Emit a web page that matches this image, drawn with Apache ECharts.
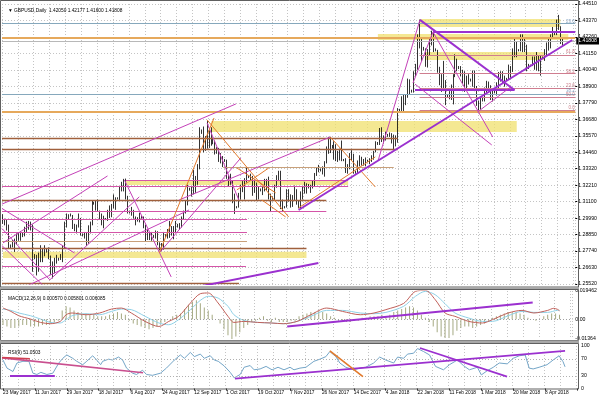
<!DOCTYPE html>
<html><head><meta charset="utf-8">
<script src="https://cdn.jsdelivr.net/npm/echarts@6/dist/echarts.min.js"></script>
<style>html,body{margin:0;padding:0;background:#fff}#c{width:600px;height:400px}</style>
</head><body><div id="c"></div>
<script>
// ---- daily GBPUSD bars, 23 May 2017 .. 19 Apr 2018 (rows of 10) ----
const open = [
1.2995,1.2975,1.2970,1.2950,1.2805,1.2810,1.2840,1.2855,1.2885,1.2890,
1.2885,1.2895,1.2925,1.2945,1.2950,1.2950,1.2745,1.2730,1.2655,1.2740,
1.2755,1.2775,1.2780,1.2775,1.2735,1.2630,1.2655,1.2690,1.2715,1.2725,
1.2725,1.2795,1.2955,1.3000,1.3025,1.3015,1.2935,1.2925,1.2945,1.2995,
1.2885,1.2885,1.2885,1.2830,1.2935,1.2965,1.3100,1.3095,1.3065,1.3045,
1.3000,1.2965,1.2990,1.2995,1.3045,1.3015,1.3090,1.3075,1.3135,1.3130,
1.3205,1.3215,1.3245,1.3135,1.3040,1.3035,1.3050,1.3000,1.2990,1.2995,
1.3005,1.3000,1.2940,1.2855,1.2880,1.2870,1.2875,1.2880,1.2905,1.2830,
1.2800,1.2795,1.2880,1.2885,1.2920,1.2940,1.2900,1.2930,1.2955,1.2940,
1.2950,1.3000,1.3040,1.3110,1.3195,1.3200,1.3180,1.3260,1.3255,1.3350,
1.3590,1.3580,1.3500,1.3510,1.3490,1.3580,1.3540,1.3510,1.3450,1.3460,
1.3395,1.3415,1.3395,1.3385,1.3275,1.3255,1.3250,1.3110,1.3070,1.3075,
1.3150,1.3200,1.3235,1.3260,1.3285,1.3280,1.3265,1.3175,1.3230,1.3190,
1.3195,1.3190,1.3205,1.3245,1.3255,1.3135,1.3135,1.3130,1.3215,1.3285,
1.3280,1.3065,1.3075,1.3070,1.3180,1.3125,1.3130,1.3135,1.3190,1.3100,
1.3110,1.3165,1.3180,1.3205,1.3225,1.3210,1.3215,1.3245,1.3290,1.3325,
1.3330,1.3325,1.3340,1.3380,1.3455,1.3525,1.3480,1.3490,1.3405,1.3440,
1.3395,1.3445,1.3395,1.3390,1.3325,1.3345,1.3425,1.3410,1.3310,1.3315,
1.3375,1.3400,1.3390,1.3375,1.3385,1.3390,1.3390,1.3415,1.3450,1.3505,
1.3500,1.3590,1.3525,1.3550,1.3565,1.3555,1.3565,1.3540,1.3535,1.3525,
1.3725,1.3730,1.3795,1.3795,1.3825,1.3890,1.3860,1.3865,1.3985,1.4015,
1.4235,1.4160,1.4150,1.4145,1.4045,1.4120,1.4195,1.4255,1.4140,1.4135,
1.3995,1.3955,1.3885,1.3910,1.3825,1.3830,1.3825,1.3885,1.3970,1.4075,
1.4020,1.4015,1.3990,1.3955,1.3900,1.3945,1.3935,1.3940,1.3990,1.3875,
1.3765,1.3780,1.3800,1.3805,1.3880,1.3905,1.3890,1.3825,1.3855,1.3860,
1.3900,1.3960,1.3950,1.3950,1.3945,1.3940,1.4020,1.4015,1.4140,1.4140,
1.4135,1.4140,1.4235,1.4150,1.4160,1.4025,1.4030,1.4035,1.4080,1.4020,
1.4080,1.4010,1.4085,1.4090,1.4125,1.4165,1.4180,1.4235,1.4250,1.4255,
1.4335,1.4290,1.42050];
const high = [
1.3025,1.2995,1.2990,1.2955,1.2820,1.2850,1.2860,1.2895,1.2900,1.2910,
1.2900,1.2940,1.2975,1.2980,1.2975,1.2955,1.2755,1.2750,1.2765,1.2815,
1.2790,1.2815,1.2790,1.2800,1.2745,1.2705,1.2730,1.2750,1.2730,1.2755,
1.2815,1.2975,1.3030,1.3025,1.3030,1.3020,1.2960,1.2955,1.3030,1.3000,
1.2895,1.2905,1.2905,1.2950,1.2975,1.3115,1.3110,1.3115,1.3125,1.3050,
1.3030,1.3015,1.3000,1.3055,1.3085,1.3095,1.3160,1.3140,1.3140,1.3215,
1.3245,1.3265,1.3267,1.3150,1.3050,1.3075,1.3055,1.3010,1.3005,1.3035,
1.3015,1.3010,1.2955,1.2920,1.2900,1.2905,1.2885,1.2915,1.2910,1.2835,
1.2830,1.2905,1.2890,1.2925,1.2980,1.2945,1.2945,1.2980,1.2960,1.2965,
1.3010,1.3050,1.3120,1.3225,1.3205,1.3210,1.3325,1.3285,1.3365,1.3615,
1.3600,1.3620,1.3555,1.3657,1.3595,1.3615,1.3545,1.3525,1.3480,1.3475,
1.3440,1.3420,1.3400,1.3395,1.3290,1.3300,1.3255,1.3165,1.3080,1.3170,
1.3225,1.3250,1.3270,1.3340,1.3290,1.3300,1.3285,1.3260,1.3240,1.3215,
1.3200,1.3215,1.3265,1.3265,1.3280,1.3165,1.3145,1.3225,1.3290,1.3320,
1.3320,1.3125,1.3080,1.3195,1.3195,1.3160,1.3155,1.3220,1.3195,1.3120,
1.3180,1.3215,1.3245,1.3235,1.3230,1.3225,1.3255,1.3305,1.3340,1.3360,
1.3335,1.3350,1.3385,1.3485,1.3550,1.3550,1.3495,1.3520,1.3500,1.3455,
1.3470,1.3525,1.3400,1.3405,1.3365,1.3440,1.3460,1.3435,1.3320,1.3390,
1.3425,1.3415,1.3400,1.3410,1.3395,1.3405,1.3425,1.3455,1.3520,1.3515,
1.3610,1.3615,1.3560,1.3585,1.3570,1.3580,1.3575,1.3565,1.3560,1.3745,
1.3740,1.3825,1.3835,1.3840,1.3945,1.3940,1.3870,1.3995,1.4045,1.4245,
1.4345,1.4225,1.4160,1.4150,1.4145,1.4220,1.4270,1.4265,1.4150,1.4140,
1.4025,1.3975,1.4065,1.3935,1.3835,1.3860,1.3905,1.3975,1.4110,1.4080,
1.4030,1.4030,1.4005,1.3995,1.3965,1.3975,1.3945,1.4000,1.4000,1.3895,
1.3795,1.3815,1.3815,1.3885,1.3930,1.3925,1.3900,1.3880,1.3865,1.3920,
1.3990,1.3995,1.3995,1.3965,1.3950,1.4040,1.4030,1.4150,1.4220,1.4200,
1.4145,1.4245,1.4245,1.4215,1.4175,1.4045,1.4040,1.4095,1.4095,1.4125,
1.4100,1.4105,1.4095,1.4145,1.4190,1.4215,1.4245,1.4295,1.4265,1.4345,
1.4377,1.4300,1.42177];
const low = [
1.2960,1.2950,1.2915,1.2795,1.2795,1.2800,1.2770,1.2820,1.2845,1.2845,
1.2870,1.2875,1.2905,1.2920,1.2915,1.2635,1.2720,1.2610,1.2635,1.2700,
1.2700,1.2740,1.2765,1.2720,1.2615,1.2590,1.2625,1.2690,1.2710,1.2715,
1.2700,1.2795,1.2935,1.2990,1.3010,1.2925,1.2910,1.2895,1.2935,1.2880,
1.2875,1.2860,1.2810,1.2825,1.2895,1.2950,1.3090,1.3050,1.3045,1.2990,
1.2950,1.2930,1.2985,1.2980,1.3000,1.3005,1.3065,1.3055,1.3125,1.3120,
1.3180,1.3180,1.3125,1.3030,1.3030,1.3015,1.2995,1.2950,1.2975,1.2970,
1.2995,1.2930,1.2840,1.2850,1.2850,1.2845,1.2865,1.2860,1.2815,1.2780,
1.2775,1.2785,1.2870,1.2860,1.2865,1.2880,1.2855,1.2900,1.2935,1.2920,
1.2935,1.2990,1.3030,1.3085,1.3185,1.3145,1.3160,1.3170,1.3225,1.3330,
1.3570,1.3445,1.3455,1.3470,1.3475,1.3490,1.3500,1.3430,1.3435,1.3380,
1.3370,1.3345,1.3380,1.3265,1.3215,1.3225,1.3100,1.3027,1.3065,1.3070,
1.3125,1.3175,1.3125,1.3240,1.3270,1.3250,1.3150,1.3170,1.3115,1.3125,
1.3180,1.3155,1.3180,1.3185,1.3125,1.3040,1.3125,1.3120,1.3205,1.3250,
1.3060,1.3040,1.3065,1.3070,1.3110,1.3070,1.3075,1.3120,1.3090,1.3065,
1.3060,1.3125,1.3165,1.3165,1.3200,1.3170,1.3200,1.3215,1.3285,1.3310,
1.3315,1.3295,1.3280,1.3370,1.3435,1.3440,1.3470,1.3395,1.3385,1.3380,
1.3390,1.3385,1.3385,1.3305,1.3300,1.3330,1.3390,1.3300,1.3300,1.3300,
1.3350,1.3355,1.3355,1.3350,1.3380,1.3365,1.3380,1.3395,1.3445,1.3495,
1.3495,1.3515,1.3505,1.3525,1.3550,1.3550,1.3505,1.3460,1.3485,1.3510,
1.3715,1.3725,1.3725,1.3765,1.3815,1.3835,1.3850,1.3850,1.3960,1.4005,
1.4150,1.4065,1.4135,1.4025,1.4020,1.4105,1.4170,1.4125,1.4130,1.3985,
1.3900,1.3855,1.3860,1.3765,1.3815,1.3805,1.3800,1.3770,1.3955,1.3995,
1.4010,1.3960,1.3910,1.3855,1.3875,1.3905,1.3925,1.3890,1.3860,1.3760,
1.3710,1.3735,1.3790,1.3790,1.3840,1.3860,1.3800,1.3790,1.3845,1.3830,
1.3865,1.3925,1.3910,1.3890,1.3935,1.3935,1.3950,1.3990,1.4090,1.4090,
1.4130,1.4130,1.4125,1.4125,1.3995,1.4010,1.4025,1.4030,1.4005,1.4000,
1.3995,1.3965,1.4080,1.4065,1.4105,1.4135,1.4150,1.4215,1.4240,1.4240,
1.4275,1.4180,1.41600];
const close = [
1.2975,1.2970,1.2950,1.2805,1.2810,1.2840,1.2855,1.2885,1.2890,1.2885,
1.2895,1.2925,1.2945,1.2950,1.2950,1.2745,1.2730,1.2655,1.2740,1.2755,
1.2775,1.2780,1.2775,1.2735,1.2630,1.2655,1.2690,1.2715,1.2725,1.2725,
1.2795,1.2955,1.3000,1.3025,1.3015,1.2935,1.2925,1.2945,1.2995,1.2885,
1.2885,1.2885,1.2830,1.2935,1.2965,1.3100,1.3095,1.3065,1.3045,1.3000,
1.2965,1.2990,1.2995,1.3045,1.3015,1.3090,1.3075,1.3135,1.3130,1.3205,
1.3215,1.3245,1.3135,1.3040,1.3035,1.3050,1.3000,1.2990,1.2995,1.3005,
1.3000,1.2940,1.2855,1.2880,1.2870,1.2875,1.2880,1.2905,1.2830,1.2800,
1.2795,1.2880,1.2885,1.2920,1.2940,1.2900,1.2930,1.2955,1.2940,1.2950,
1.3000,1.3040,1.3110,1.3195,1.3200,1.3180,1.3260,1.3255,1.3350,1.3590,
1.3580,1.3500,1.3510,1.3490,1.3580,1.3540,1.3510,1.3450,1.3460,1.3395,
1.3415,1.3395,1.3385,1.3275,1.3255,1.3250,1.3110,1.3070,1.3075,1.3150,
1.3200,1.3235,1.3260,1.3285,1.3280,1.3265,1.3175,1.3230,1.3190,1.3195,
1.3190,1.3205,1.3245,1.3255,1.3135,1.3135,1.3130,1.3215,1.3285,1.3280,
1.3065,1.3075,1.3070,1.3180,1.3125,1.3130,1.3135,1.3190,1.3100,1.3110,
1.3165,1.3180,1.3205,1.3225,1.3210,1.3215,1.3245,1.3290,1.3325,1.3330,
1.3325,1.3340,1.3380,1.3455,1.3525,1.3480,1.3490,1.3405,1.3440,1.3395,
1.3445,1.3395,1.3390,1.3325,1.3345,1.3425,1.3410,1.3310,1.3315,1.3375,
1.3400,1.3390,1.3375,1.3385,1.3390,1.3390,1.3415,1.3450,1.3505,1.3500,
1.3590,1.3525,1.3550,1.3565,1.3555,1.3565,1.3540,1.3535,1.3525,1.3725,
1.3730,1.3795,1.3795,1.3825,1.3890,1.3860,1.3865,1.3985,1.4015,1.4235,
1.4160,1.4150,1.4145,1.4045,1.4120,1.4195,1.4255,1.4140,1.4135,1.3995,
1.3955,1.3885,1.3910,1.3825,1.3830,1.3825,1.3885,1.3970,1.4075,1.4020,
1.4015,1.3990,1.3955,1.3900,1.3945,1.3935,1.3940,1.3990,1.3875,1.3765,
1.3780,1.3800,1.3805,1.3880,1.3905,1.3890,1.3825,1.3855,1.3860,1.3900,
1.3960,1.3950,1.3950,1.3945,1.3940,1.4020,1.4015,1.4140,1.4140,1.4135,
1.4140,1.4235,1.4150,1.4160,1.4025,1.4030,1.4035,1.4080,1.4020,1.4080,
1.4010,1.4085,1.4090,1.4125,1.4165,1.4180,1.4235,1.4250,1.4255,1.4335,
1.4290,1.4205,1.41808];

const xTickLabels = ['23 May 2017','11 Jun 2017','29 Jun 2017','18 Jul 2017','6 Aug 2017','24 Aug 2017',
  '12 Sep 2017','1 Oct 2017','19 Oct 2017','7 Nov 2017','26 Nov 2017','14 Dec 2017','4 Jan 2018',
  '22 Jan 2018','11 Feb 2018','1 Mar 2018','20 Mar 2018','8 Apr 2018'];
const priceTickLabels = ['1.25520','1.26630','1.27740','1.28850','1.29990','1.31100','1.32210','1.33320',
  '1.34460','1.35570','1.36680','1.37790','1.38900','1.40040','1.41150','1.42260','1.43370','1.44510'];
const priceMin = 1.2552, priceMax = 1.4451;
const lastPrice = 1.41808;

// MACD(12,26,9): [bar, value]
const macdMain = [[0,0.0077],[4,0.0054],[8,0.0024],[14,0.0001],[19,-0.0022],[24,-0.0031],[29,-0.0015],
 [32,0.0031],[35,0.0043],[42,0.0031],[49,0.0043],[55,0.0070],[60,0.0077],[65,0.0043],[72,-0.0015],
 [79,-0.0050],[84,-0.0015],[89,0.0020],[95,0.0112],[100,0.0176],[104,0.0181],[109,0.0112],[114,0.0020],
 [117,-0.0022],[122,-0.0015],[129,-0.0022],[136,-0.0026],[142,-0.0031],[149,-0.0015],[156,0.0031],
 [164,0.0077],[172,0.0054],[181,0.0031],[188,0.0043],[194,0.0066],[203,0.0109],[209,0.0192],[214,0.0199],
 [219,0.0135],[224,0.0043],[229,0.0020],[236,-0.0015],[243,-0.0026],[248,-0.0003],[256,0.0043],
 [263,0.0061],[269,0.0043],[276,0.0061],[279,0.0075],[281,0.0068],[282,0.0058]];
const macdSignal = [[0,0.0070],[4,0.0061],[8,0.0043],[14,0.0024],[19,0.0001],[24,-0.0022],[29,-0.0026],
 [32,-0.0003],[35,0.0024],[42,0.0038],[49,0.0031],[55,0.0054],[60,0.0070],[65,0.0066],[72,0.0020],
 [79,-0.0026],[84,-0.0038],[89,-0.0003],[95,0.0066],[100,0.0130],[104,0.0158],[109,0.0146],[114,0.0089],
 [117,0.0031],[122,-0.0008],[129,-0.0022],[136,-0.0026],[142,-0.0031],[149,-0.0015],[156,0.0020],
 [164,0.0061],[172,0.0061],[181,0.0043],[188,0.0038],[194,0.0047],[203,0.0089],[209,0.0158],[214,0.0192],
 [219,0.0169],[224,0.0107],[229,0.0043],[236,0.0008],[243,-0.0015],[248,-0.0015],[256,0.0024],
 [263,0.0054],[269,0.0047],[276,0.0047],[281,0.0061],[282,0.0061]];
// histogram, one value every second bar (bars 0,2,4,...,282)
const macdHist = [
-0.004,-0.005,-0.006,-0.006,-0.005, -0.004,-0.004,-0.005, -0.005,-0.005,-0.004,-0.004,
-0.003,-0.002,-0.001, 0.006,0.009,0.008, 0.006,0.005,0.004,0.004, 0.003,0.003,0.002,
0.002,0.002,0.003, 0.004,0.005,0.004,0.003, -0.001,-0.003,-0.004,-0.005, -0.006,-0.007,-0.006,-0.005,
-0.003,-0.002,0.000, 0.002,0.003,0.004, 0.007,0.010,0.012,0.013,0.011, 0.008,0.006,0.003,
0.000,-0.003,-0.007, -0.011,-0.0136,-0.012,-0.009,-0.006, -0.004,-0.002,-0.001,
0.001,0.002,-0.001,-0.002,0.001, -0.002,-0.002,-0.002,-0.001,-0.001, 0.002,0.003,0.004,0.005,0.005,
0.006,0.005,0.004,0.002,0.001, -0.001,-0.002,-0.002,-0.002,-0.001,-0.001,0.001,
0.001,0.002,0.002,0.002,0.003,0.002,0.003,0.005, 0.006,0.007,0.008,0.009,0.008,0.006,0.003,
0.001,-0.002,-0.005, -0.009,-0.012,-0.013,-0.013,-0.011,-0.008,-0.006,
-0.005,-0.005,-0.006,-0.005,-0.004,-0.003,-0.001, 0.001,0.002,0.003,0.004,0.005,0.005,0.005,0.004,0.003,
0.001,0.000,-0.001,0.000, 0.002,0.003,0.004,0.004,0.003];

// RSI(9): [bar, value]
const rsiLine = [[0,67],[2,48],[5,40],[7,60],[10,64],[13,64],[15,36],[17,33],[19,38],[22,33],[25,36],[28,60],
 [30,71],[32,79],[35,71],[37,64],[40,56],[42,64],[45,77],[47,67],[49,56],[50,64],[53,69],[55,67],[58,74],
 [60,67],[62,48],[65,36],[67,33],[70,43],[72,33],[75,31],[79,36],[82,48],[86,67],[89,79],[91,71],[94,85],
 [96,75],[99,81],[101,71],[104,77],[106,67],[108,64],[111,53],[114,38],[116,25],[119,33],[121,50],[124,54],
 [126,44],[129,46],[132,52],[135,44],[138,50],[141,44],[144,50],[146,44],[149,48],[152,50],[156,64],[159,69],
 [162,75],[164,87],[167,75],[169,60],[172,50],[176,44],[179,48],[182,50],[186,60],[189,74],[192,67],[196,60],
 [198,74],[201,71],[203,81],[206,83],[208,94],[211,87],[214,79],[217,52],[221,44],[224,56],[228,67],[231,54],
 [234,44],[238,50],[240,32],[243,42],[246,50],[249,60],[253,58],[256,71],[259,77],[262,79],[264,48],[266,46],
 [269,50],[273,56],[276,67],[279,77],[281,63],[282,51.05]];

// ---- drawn objects (bar index, price) ----
const hBlue   = [[1.4322,-0.5,288.5],[1.3841,-0.5,288.5]];          // [price, fromBar, toBar]
const hOrange = [[1.4220,-0.5,288.5],[1.3719,-0.5,288.5]];
const hViolet = [[1.4261,216.8,288.5],[1.3868,207.7,257.9]];
const hBrown  = [[1.3542,-0.5,199],[1.3468,-0.5,199],[1.3122,-0.5,163],[1.2797,-0.5,153],[1.2557,-0.5,119]];
const hPink   = [[1.3258,62,174],[1.3212,-0.5,174],[1.3048,-0.5,163],[1.2993,-0.5,123],[1.2905,-0.5,123],[1.2675,-0.5,122.5]];
const hTan    = [[1.2844,-0.5,123],[1.3346,111,197]];
const hFib    = [[1.4105,210,288.5],[1.3983,210,288.5],[1.3881,210,288.5],[1.3820,210,288.5],[1.3732,210,288.5]];
const zones   = [[210,280.5,1.4349,1.4295],[189,284.5,1.4248,1.4207],[212.7,273,1.4126,1.4071],
                 [105,259,1.3658,1.3583],[62,174,1.3251,1.3224],[-0.5,153,1.2770,1.2729]]; // [from,to,top,bottom]
const tMagenta = [[-0.5,1.3094,117.4,1.3773],[0,1.2831,52.7,1.3285],[11,1.2532,93.8,1.3054],[23.6,1.2580,68.7,1.3143],
  [-0.5,1.3064,36,1.2763],[-0.5,1.2928,23.6,1.2580],[-0.5,1.2812,21,1.2532],[61.2,1.3258,84.8,1.2600],
  [78.8,1.2763,119.9,1.3407],[102.9,1.3644,118.9,1.3122],[88.8,1.3122,165,1.3549],[216.8,1.4261,246.9,1.3549],
  [239.3,1.3719,255.9,1.3888],[207.7,1.3908,246.4,1.3495],[206.7,1.3915,216.8,1.4261],[189.2,1.3393,210.2,1.4343]];
const tOrange = [[78.8,1.2763,106.4,1.3678],[102.9,1.3665,144,1.3007],[117.9,1.3339,137.5,1.3170],
  [117.9,1.3190,134,1.3339],[130.5,1.3122,142.5,1.3007],[149,1.3068,187.7,1.3414],[165,1.3549,187.7,1.3210]];
const tViolet = [[149,1.3054,287,1.4207],[210.2,1.4343,257.9,1.3868],[100.4,1.2539,159,1.2695]];
const fibLabelPrices = [1.4329,1.4126,1.3990,1.3895,1.3861,1.3834,1.3746];
const fibLabelTexts  = ['23.6','61.8','38.2','23.6','38.2','50.0','0.0'];
const fibLabelBlue   = [true,false,false,false,true,false,false];
const macdTrend = [[144,-0.0050,268.4,0.0116]];
const rsiPinkTrend = [[-0.5,72.1,70.3,37.2]];
const rsiRedTrend  = [[-0.5,72.8,13.5,70]];
const rsiVioletTrend = [[3.5,30.9,26,30.9],[116.4,23.3,282,88.4],[209.2,95.3,252.9,27.9]];
const rsiOrangeTrend = [[164,88.4,180.6,27.9]];

// ---- chart ----
const SHIFT = 6;
const nCat = close.length + SHIFT;
const cats = Array.from({length: nCat}, (_, i) => String(i));
const FONT = 'Liberation Sans, Arial, sans-serif';
const gridLine = {show: true, interval: 7, lineStyle: {color: '#c4c4c4', type: [1, 2], width: 1}};

function segs(arr, color, width, xi, yi) {
  return {type: 'lines', coordinateSystem: 'cartesian2d', xAxisIndex: xi, yAxisIndex: yi, polyline: false,
    silent: true, z: 5, lineStyle: {color: color, width: width, opacity: 1},
    data: arr.map(a => ({coords: [[a[0], a[1]], [a[2], a[3]]]}))};
}
function levels(arr, color, width) {
  return segs(arr.map(a => [a[1], a[0], a[2], a[0]]), color, width, 1, 0);
}
const candleData = open.map((o, i) => [o, close[i], low[i], high[i]]);

const chart = echarts.init(document.getElementById('c'), null, {renderer: 'canvas'});
chart.setOption({
  animation: false,
  backgroundColor: '#ffffff',
  textStyle: {fontFamily: FONT},
  title: [
    {text: '\u25BC GBPUSD,Daily  1.42050 1.42177 1.41600 1.41808', left: 3, top: 3,
     textStyle: {fontSize: 4.8, fontWeight: 'normal', color: '#000', fontFamily: FONT}},
    {text: 'MACD(12,26,9) 0.000570 0.005801 0.006085', left: 3, top: 291,
     textStyle: {fontSize: 4.8, fontWeight: 'normal', color: '#000', fontFamily: FONT}},
    {text: 'RSI(9) 51.0503', left: 3, top: 345,
     textStyle: {fontSize: 4.8, fontWeight: 'normal', color: '#000', fontFamily: FONT}}
  ],
  graphic: [
    {type: 'rect', shape: {x: 0.5, y: 0.5, width: 578, height: 286.5}, style: {fill: 'none', stroke: '#606060', lineWidth: 1}, z: 50, silent: true},
    {type: 'rect', shape: {x: 0, y: 287, width: 579, height: 2.5}, style: {fill: '#a8a8a8'}, z: 50, silent: true},
    {type: 'rect', shape: {x: 0.5, y: 289.5, width: 578, height: 51}, style: {fill: 'none', stroke: '#606060', lineWidth: 1}, z: 50, silent: true},
    {type: 'rect', shape: {x: 0, y: 340.5, width: 579, height: 2.5}, style: {fill: '#a8a8a8'}, z: 50, silent: true},
    {type: 'rect', shape: {x: 0.5, y: 343.5, width: 578, height: 45.5}, style: {fill: 'none', stroke: '#606060', lineWidth: 1}, z: 50, silent: true}
  ],
  grid: [
    {left: 2, right: 22, top: 4, height: 280},
    {left: 2, right: 22, top: 291, height: 48},
    {left: 2, right: 22, top: 346, height: 42.5}
  ],
  xAxis: [
    {type: 'category', gridIndex: 0, data: cats, boundaryGap: true, axisLine: {show: false}, axisTick: {show: false},
     axisLabel: {show: false}, splitLine: gridLine},
    {type: 'value', gridIndex: 0, min: -0.5, max: nCat - 0.5, show: false},
    {type: 'category', gridIndex: 1, data: cats, boundaryGap: true, axisLine: {show: false}, axisTick: {show: false},
     axisLabel: {show: false}, splitLine: gridLine},
    {type: 'value', gridIndex: 1, min: -0.5, max: nCat - 0.5, show: false},
    {type: 'category', gridIndex: 2, data: cats, boundaryGap: true, axisLine: {show: false},
     axisTick: {show: true, interval: 15, length: 2, alignWithLabel: true, lineStyle: {color: '#000'}},
     axisLabel: {interval: 15, margin: 2, fontSize: 4.8, color: '#000', align: 'left', fontFamily: FONT,
       formatter: (v, i) => (i % 16 === 0 && xTickLabels[i / 16]) ? xTickLabels[i / 16] : ''},
     splitLine: gridLine},
    {type: 'value', gridIndex: 2, min: -0.5, max: nCat - 0.5, show: false}
  ],
  yAxis: [
    {type: 'value', gridIndex: 0, min: priceMin, max: priceMax, show: false, scale: true},
    {type: 'value', gridIndex: 0, min: 0, max: priceTickLabels.length - 1, interval: 1, position: 'right',
     axisLine: {show: false}, axisTick: {show: true, length: 2, lineStyle: {color: '#000'}},
     axisLabel: {fontSize: 5.2, margin: 3, color: '#000', fontFamily: FONT,
       formatter: v => priceTickLabels[Math.round(v)] || ''},
     splitLine: {show: true, lineStyle: {color: '#c4c4c4', type: [1, 2], width: 1}}},
    {type: 'value', gridIndex: 1, min: -0.01364, max: 0.019462, interval: 0.01364, position: 'right',
     axisLine: {show: false}, axisTick: {show: false}, splitLine: {show: false},
     axisLabel: {fontSize: 5.2, margin: 3, color: '#000', showMinLabel: true, showMaxLabel: true, fontFamily: FONT,
       formatter: v => v > 0.019 ? '0.019462' : (Math.abs(v) < 1e-9 ? '0.00' : (v < -0.013 ? '-0.01364' : ''))}},
    {type: 'value', gridIndex: 2, min: 0, max: 100, interval: 10, position: 'right',
     axisLine: {show: false}, axisTick: {show: false}, splitLine: {show: false},
     axisLabel: {fontSize: 5.2, margin: 3, color: '#000', fontFamily: FONT,
       formatter: v => ([0, 30, 70, 100].indexOf(v) >= 0 ? String(v) : '')}}
  ],
  series: [
    {type: 'candlestick', xAxisIndex: 0, yAxisIndex: 0, data: candleData, barWidth: 1.3, z: 3,
     itemStyle: {color: '#ffffff', color0: '#000000', borderColor: '#000000', borderColor0: '#000000', borderWidth: 0.8},
     markArea: {silent: true, itemStyle: {color: 'rgba(240,224,110,0.75)'},
       data: zones.map(z => [{xAxis: z[0], yAxis: z[2]}, {xAxis: z[1], yAxis: z[3]}])},
     markLine: {silent: true, symbol: 'none', animation: false,
       lineStyle: {color: '#b8b8b8', width: 1, type: 'solid'},
       label: {position: 'end', distance: 1, formatter: lastPrice.toFixed(5), backgroundColor: '#000',
         color: '#fff', fontSize: 5.2, padding: [1, 2], fontFamily: FONT},
       data: [{yAxis: lastPrice}]}},
    levels(hBlue, '#86a8bc', 1),
    levels(hOrange, '#e6a95c', 2),
    levels(hBrown, '#a0603c', 1.4),
    levels(hPink, '#d455a8', 1.2),
    levels(hTan, '#c8a07a', 1.2),
    levels(hFib, '#cf7d8f', 1),
    levels(hViolet, '#9b30cf', 2.2),
    segs(tMagenta, '#c441b8', 1, 1, 0),
    segs(tOrange, '#e27a2c', 1, 1, 0),
    segs(tViolet, '#9b30cf', 2, 1, 0),
    {type: 'scatter', xAxisIndex: 1, yAxisIndex: 0, symbolSize: 0, silent: true, z: 6,
     data: fibLabelPrices.map((p, i) => ({value: [nCat - 0.7, p],
       label: {show: true, position: 'left', distance: 0, formatter: fibLabelTexts[i], fontSize: 4.5,
         color: fibLabelBlue[i] ? '#6a8fb5' : '#c0606e', fontFamily: FONT}}))},
    // MACD panel
    {type: 'bar', xAxisIndex: 3, yAxisIndex: 2, barWidth: 1, itemStyle: {color: '#a5a982'},
     data: macdHist.map((v, k) => [2 * k, v]),
     markLine: {silent: true, symbol: 'none', label: {show: false},
       lineStyle: {color: '#a0a0a0', type: [1, 2], width: 1}, data: [{yAxis: 0}]}},
    {type: 'line', xAxisIndex: 3, yAxisIndex: 2, data: macdSignal, showSymbol: false, smooth: 0.3,
     lineStyle: {color: '#8fd0e6', width: 1}},
    {type: 'line', xAxisIndex: 3, yAxisIndex: 2, data: macdMain, showSymbol: false, smooth: 0.3,
     lineStyle: {color: '#c0605a', width: 1}},
    segs(macdTrend, '#9b30cf', 2, 3, 2),
    // RSI panel
    {type: 'line', xAxisIndex: 5, yAxisIndex: 3, data: rsiLine, showSymbol: false,
     lineStyle: {color: '#74a6c8', width: 1},
     markLine: {silent: true, symbol: 'none', label: {show: false},
       lineStyle: {color: '#b0b0b0', type: [1, 2], width: 1}, data: [{yAxis: 30}, {yAxis: 70}]}},
    segs(rsiPinkTrend, '#c94f8f', 1.6, 5, 3),
    segs(rsiRedTrend, '#d04050', 1.4, 5, 3),
    segs(rsiVioletTrend, '#9b30cf', 1.8, 5, 3),
    segs(rsiOrangeTrend, '#e27a2c', 1.6, 5, 3)
  ]
});
</script>
</body></html>
